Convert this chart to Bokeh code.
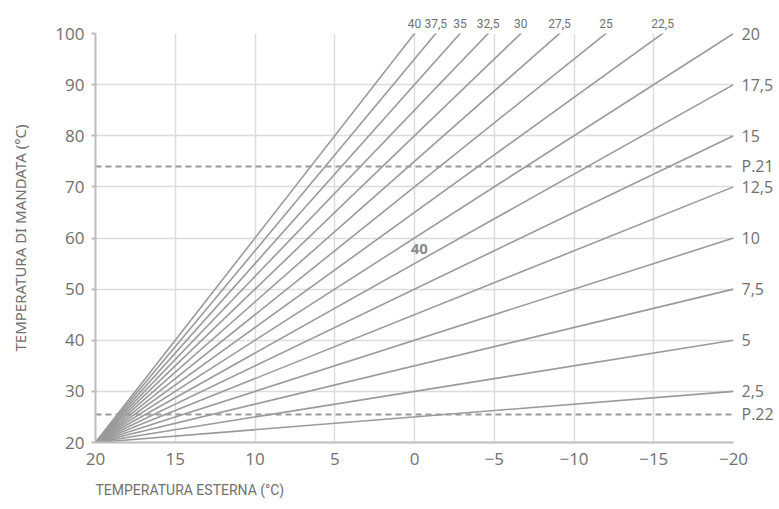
from bokeh.plotting import figure
from bokeh.models import Range1d, FixedTicker, Label, LinearAxis, Title
from bokeh.embed import file_html
from bokeh.resources import INLINE

# Data
curve_values = [2.5, 5, 7.5, 10, 12.5, 15, 17.5, 20, 22.5, 25, 27.5, 30, 32.5, 35, 37.5, 40]
t_start = 20      # outside temp where every curve starts
t_end = -20       # right end of x axis
flow_start = 20   # flow temp at start
flow_max = 100
x_ticks = [20, 15, 10, 5, 0, -5, -10, -15, -20]
x_tick_labels = ["20", "15", "10", "5", "0", "\u22125", "\u221210", "\u221215", "\u221220"]
y_ticks = [20, 30, 40, 50, 60, 70, 80, 90, 100]
limit_values = [74, 25.5]
limit_labels = ["P.21", "P.22"]
note_x, note_y, note_text = [-0.3], [57.8], ["40"]

GRAY_LINE = "#9a9a9a"
GRID = "#dcdcdc"
TXT = "#707070"
FONT = "Open Sans"

p = figure(width=779, height=509, output_backend="svg", toolbar_location=None,
           x_range=Range1d(20, -20), y_range=Range1d(20, 100),
           min_border_left=95, min_border_right=46, min_border_top=33, min_border_bottom=66)
p.outline_line_color = None
p.background_fill_color = "white"
p.border_fill_color = "white"

# grid
p.xgrid.ticker = FixedTicker(ticks=x_ticks)
p.ygrid.ticker = FixedTicker(ticks=y_ticks)
for g in (p.xgrid[0], p.ygrid[0]):
    g.grid_line_color = GRID
    g.grid_line_width = 1.5

# axes
xa = p.xaxis[0]
xa.ticker = FixedTicker(ticks=x_ticks)
xa.major_label_overrides = {t: l for t, l in zip(x_ticks, x_tick_labels)}
xa.major_tick_out = 0
xa.major_tick_in = 0
xa.minor_tick_out = 0
xa.minor_tick_in = 0
xa.major_label_standoff = 10
xa.axis_line_color = "#bdbdbd"
xa.axis_line_width = 2
xa.major_label_text_font = FONT
xa.major_label_text_font_size = "17px"
xa.major_label_text_color = TXT

ya = p.yaxis[0]
ya.ticker = FixedTicker(ticks=y_ticks)
ya.major_tick_out = 4
ya.major_tick_in = 0
ya.minor_tick_out = 0
ya.minor_tick_in = 0
ya.major_tick_line_color = "#bdbdbd"
ya.major_tick_line_width = 2
ya.major_label_standoff = 7
ya.axis_line_color = "#bdbdbd"
ya.axis_line_width = 2
ya.major_label_text_font = FONT
ya.major_label_text_font_size = "17px"
ya.major_label_text_color = TXT
ya.axis_label = "TEMPERATURA DI MANDATA (°C)"
ya.axis_label_text_font = "Noto Sans"
ya.axis_label_text_font_size = "15px"
ya.axis_label_text_font_style = "normal"
ya.axis_label_text_color = TXT
ya.axis_label_standoff = 22

# curves
xs, ys = [], []
for k in curve_values:
    slope = k / 10.0
    xs.append([t_start, t_end])
    ys.append([flow_start, flow_start + slope * (t_start - t_end)])
p.multi_line(xs=xs, ys=ys, line_color=GRAY_LINE, line_width=1.6)

# limit dashed lines
for v in limit_values:
    p.line(x=[t_start, t_end], y=[v, v], line_color=GRAY_LINE, line_width=2, line_dash="6 4")

def fmt(v):
    return ("%g" % v).replace(".", ",")

# right labels (curves ending on the right edge) as a right axis
r_y, r_t = [], []
for k in curve_values:
    yend = flow_start + k / 10.0 * (t_start - t_end)
    if yend <= flow_max + 1e-9:
        r_y.append(yend)
        r_t.append(fmt(k))
r_y += limit_values
r_t += limit_labels
ra = LinearAxis(ticker=FixedTicker(ticks=r_y),
                major_label_overrides={v: t for v, t in zip(r_y, r_t)},
                axis_line_color=None, major_tick_line_color=None, minor_tick_line_color=None,
                major_tick_out=0, major_tick_in=0, minor_tick_out=0, minor_tick_in=0,
                major_label_standoff=8, major_label_text_font=FONT,
                major_label_text_font_size="16px", major_label_text_color=TXT)
p.add_layout(ra, "right")

# top labels (curves reaching 100 before the right edge) as a top axis
t_x, t_t = [], []
for k in curve_values:
    yend = flow_start + k / 10.0 * (t_start - t_end)
    if yend > flow_max + 1e-9:
        t_x.append(t_start - (flow_max - flow_start) / (k / 10.0))
        t_t.append(fmt(k))
ta = LinearAxis(ticker=FixedTicker(ticks=t_x),
                major_label_overrides={v: t for v, t in zip(t_x, t_t)},
                axis_line_color=None, major_tick_line_color=None, minor_tick_line_color=None,
                major_tick_out=0, major_tick_in=0, minor_tick_out=0, minor_tick_in=0,
                major_label_standoff=6, major_label_text_font="Roboto",
                major_label_text_font_size="12px", major_label_text_color=TXT)
p.add_layout(ta, "above")

# note in the middle
p.add_layout(Label(x=note_x[0], y=note_y[0], text=note_text[0], text_align="center",
                   text_baseline="middle", text_font=FONT, text_font_size="15px",
                   text_font_style="bold", text_color="#8a8a8a"))

# x axis title, left aligned under the frame
p.add_layout(Title(text="TEMPERATURA ESTERNA (°C)", align="left",
                   text_font="Roboto", text_font_size="14px",
                   text_font_style="normal", text_color=TXT, standoff=24), "below")

open("out.html", "w").write(file_html(p, INLINE))
